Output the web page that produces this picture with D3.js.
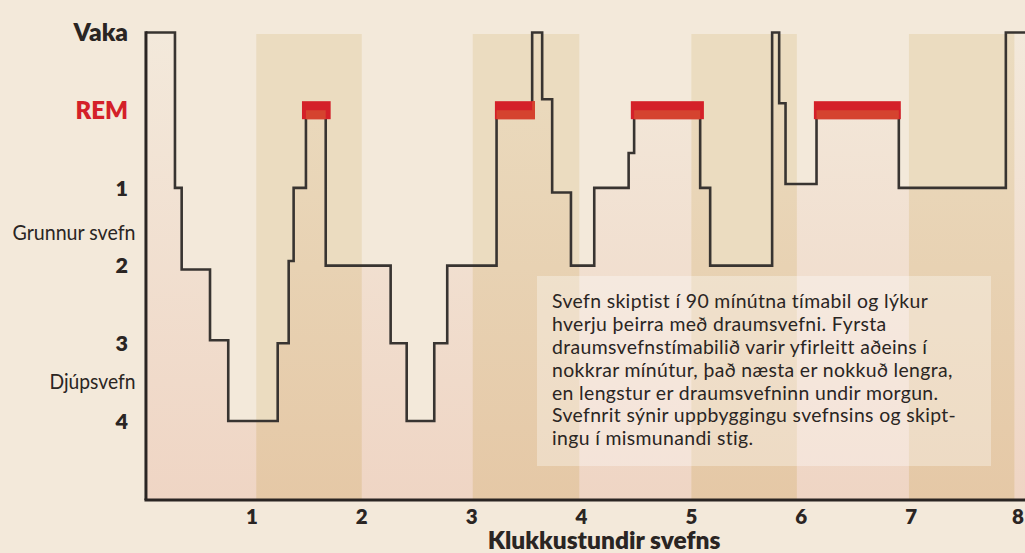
<!DOCTYPE html>
<html><head><meta charset="utf-8">
<script src="https://cdn.jsdelivr.net/npm/d3@7"></script>
<style>
html,body{margin:0;padding:0;background:#F3E9DA;}
svg{display:block;}
</style></head><body>
<svg id="chart" width="1025" height="553"></svg>
<script>
// Stages from top (awake) to bottom (deepest); the index is the depth value
const stageLabels = ["Vaka", "REM", "1", "2", "3", "4"];
const stageNotes = ["Grunnur svefn", "Djúpsvefn"];
const hourTicks = [1, 2, 3, 4, 5, 6, 7, 8];

// Hypnogram: hour at which each step begins and its depth
const stepHours = [0.036, 0.300, 0.361, 0.619, 0.785, 1.235, 1.335, 1.380, 1.492, 1.672,
                   2.263, 2.409, 2.660, 2.778, 3.227, 3.551, 3.642, 3.733, 3.904, 4.116,
                   4.429, 4.479, 5.080, 5.171, 5.735, 5.799, 5.857, 6.139, 6.888, 7.862, 8.04];
const stepDepth = [0, 2, 3.05, 3.96, 5, 4, 2.94, 2, 1, 3,
                   4, 5, 4, 3, 1, 0, 0.86, 2.06, 3, 2,
                   1.55, 1, 2, 3, 0, 0.91, 1.95, 1, 2, 0, 0];

// REM periods (hours)
const remStart = [1.456, 3.212, 4.449, 6.115];
const remEnd   = [1.717, 3.576, 5.114, 6.906];

// Alternating shaded hours
const bandStart = [1.04, 3.01, 5.00, 6.98];
const bandEnd   = [2.00, 3.98, 5.96, 7.94];

const noteLines = [
  "Svefn skiptist í 90 mínútna tímabil og lýkur",
  "hverju þeirra með draumsvefni. Fyrsta",
  "draumsvefnstímabilið varir yfirleitt aðeins í",
  "nokkrar mínútur, það næsta er nokkuð lengra,",
  "en lengstur er draumsvefninn undir morgun.",
  "Svefnrit sýnir uppbyggingu svefnsins og skipt-",
  "ingu í mismunandi stig."
];
const xTitle = "Klukkustundir svefns";

// ---- layout ----
const W = 1025, H = 553;
const plotTop = 34, plotBottom = 500;
const font = "Lato, 'Open Sans', sans-serif";
const ink = "#2a2523";

const x = d3.scaleLinear().domain([0, 8]).range([142, 1021]);
const y = d3.scaleLinear().domain([0, 5]).range([32.5, 421]);
const x0 = x(stepHours[0]);

const svg = d3.select("#chart");
const defs = svg.append("defs");

function vGrad(id, top, bottom) {
  const g = defs.append("linearGradient").attr("id", id)
    .attr("gradientUnits", "userSpaceOnUse")
    .attr("x1", 0).attr("x2", 0).attr("y1", plotTop).attr("y2", plotBottom);
  g.append("stop").attr("offset", 0).attr("stop-color", top);
  g.append("stop").attr("offset", 1).attr("stop-color", bottom);
}
vGrad("baseGrad", "#F3E9DB", "#EFD5C4");
vGrad("bandGrad", "#EBDCC0", "#E5C8A6");

const steps = stepHours.map((h, i) => ({h, d: stepDepth[i]}));
const bands = bandStart.map((s, i) => ({s, e: bandEnd[i]}));
const rems = remStart.map((s, i) => ({s, e: remEnd[i]}));

// region beneath the hypnogram, which carries the warm gradient
const under = d3.area().curve(d3.curveStepAfter)
  .x(d => x(d.h)).y0(plotBottom).y1(d => y(d.d));
defs.append("clipPath").attr("id", "underClip")
  .append("path").attr("d", under(steps));

svg.append("rect").attr("width", W).attr("height", H).attr("fill", "#F3E9DA");

// flat bands above the line
svg.append("g").selectAll("rect").data(bands).join("rect")
  .attr("x", d => x(d.s)).attr("width", d => x(d.e) - x(d.s))
  .attr("y", plotTop).attr("height", plotBottom - plotTop)
  .attr("fill", "#EBDCC0");

// gradient fill beneath the line
const low = svg.append("g").attr("clip-path", "url(#underClip)");
low.append("rect").attr("x", x0).attr("width", W - x0)
  .attr("y", plotTop - 4).attr("height", plotBottom - plotTop + 4)
  .attr("fill", "url(#baseGrad)");
low.selectAll("rect.band").data(bands).join("rect").attr("class", "band")
  .attr("x", d => x(d.s)).attr("width", d => x(d.e) - x(d.s))
  .attr("y", plotTop - 4).attr("height", plotBottom - plotTop + 4)
  .attr("fill", "url(#bandGrad)");

// hypnogram line
const stepLine = d3.line().curve(d3.curveStepAfter).x(d => x(d.h)).y(d => y(d.d));
svg.append("path").attr("d", stepLine(steps))
  .attr("fill", "none").attr("stroke", "#383431").attr("stroke-width", 2.6)
  .attr("stroke-linejoin", "miter");

// REM bars
const barH = 18;
svg.append("g").selectAll("rect").data(rems).join("rect")
  .attr("x", d => x(d.s)).attr("width", d => x(d.e) - x(d.s))
  .attr("y", y(1) - barH / 2).attr("height", barH)
  .attr("fill", "#D42029");
svg.append("g").attr("clip-path", "url(#underClip)")
  .selectAll("rect").data(rems).join("rect")
  .attr("x", d => x(d.s)).attr("width", d => x(d.e) - x(d.s))
  .attr("y", y(1) - barH / 2).attr("height", barH)
  .attr("fill", "#D5432F");

// axes
svg.append("line").attr("x1", x0).attr("x2", x0)
  .attr("y1", y(0) - 1.3).attr("y2", plotBottom)
  .attr("stroke", ink).attr("stroke-width", 3);
svg.append("line").attr("x1", x0 - 1.5).attr("x2", W)
  .attr("y1", plotBottom).attr("y2", plotBottom)
  .attr("stroke", ink).attr("stroke-width", 3);

// stage labels
const stageStyle = [
  {size: 24.5, color: ink}, {size: 24, color: "#D42029"},
  {size: 21.5, color: ink}, {size: 21.5, color: ink}, {size: 21.5, color: ink}, {size: 21.5, color: ink}
];
svg.append("g").selectAll("text").data(stageLabels).join("text")
  .attr("x", 128).attr("y", (d, i) => y(i) + stageStyle[i].size * 0.36)
  .attr("text-anchor", "end")
  .attr("font-family", font).attr("font-weight", 800)
  .attr("font-size", (d, i) => stageStyle[i].size)
  .attr("fill", (d, i) => stageStyle[i].color)
  .text(d => d);

// group notes between stages, set to the width of a narrower face
const notePos = [2.57, 4.49];
const noteWidth = [123, 86];
svg.append("g").selectAll("text").data(stageNotes).join("text")
  .attr("x", 135.5).attr("y", (d, i) => y(notePos[i]) + 7.5)
  .attr("text-anchor", "end")
  .attr("textLength", (d, i) => noteWidth[i]).attr("lengthAdjust", "spacingAndGlyphs")
  .attr("font-family", font).attr("font-size", 21).attr("fill", ink)
  .text(d => d);

// hour ticks (the last one sits against the right edge)
svg.append("g").selectAll("text").data(hourTicks).join("text")
  .attr("x", d => Math.min(x(d), W - 7)).attr("y", 524)
  .attr("text-anchor", "middle")
  .attr("font-family", font).attr("font-weight", 800).attr("font-size", 20.5)
  .attr("fill", ink).text(d => d);

svg.append("text").attr("x", 604).attr("y", 548.5)
  .attr("text-anchor", "middle")
  .attr("font-family", font).attr("font-weight", 800).attr("font-size", 24.5)
  .attr("fill", ink).text(xTitle);

// explanatory note
svg.append("rect").attr("x", 537).attr("y", 276).attr("width", 454).attr("height", 190)
  .attr("fill", "#ffffff").attr("fill-opacity", 0.33);
svg.append("g").selectAll("text").data(noteLines).join("text")
  .attr("x", 552).attr("y", (d, i) => 308.3 + i * 22.8)
  .attr("font-family", font).attr("font-size", 19.4).attr("letter-spacing", 0.36)
  .attr("fill", ink)
  .text(d => d);
</script>
</body></html>
